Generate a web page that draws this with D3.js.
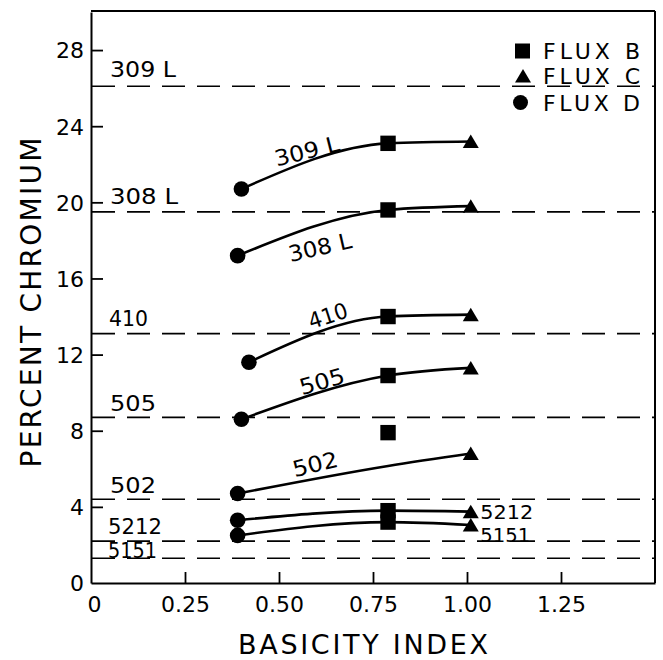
<!DOCTYPE html>
<html><head><meta charset="utf-8">
<script src="https://cdn.jsdelivr.net/npm/d3@7"></script>
<style>
body{margin:0;background:#fff}
svg{display:block}
text{font-family:"DejaVu Sans","Liberation Sans",Arial,sans-serif;fill:#000}
</style>
</head><body>
<svg id="c" width="663" height="660"></svg>
<script>
// ---- data ----
const alloys = ["309 L","308 L","410","505","502","5212","5151"];
const fluxD_basicity = [0.40,0.39,0.42,0.40,0.39,0.39,0.39];
const fluxD_cr = [20.7,17.2,11.6,8.6,4.7,3.3,2.5];
const fluxB_basicity = 0.79;
const fluxB_cr = [23.1,19.6,14.0,10.9,7.9,3.8,3.2];
const fluxC_basicity = 1.01;
const fluxC_cr = [23.2,19.8,14.1,11.3,6.8,3.75,3.05];
// value of the drawn (smoothed) curve at the flux-B basicity
const curveAtB_cr = [23.1,19.6,14.0,10.9,6.15,3.8,3.2];
// nominal chromium level of each alloy (dashed lines)
const alloyLevel_cr = [26.1,19.5,13.1,8.7,4.4,2.2,1.3];
const xTickValues = [0,0.25,0.5,0.75,1.0,1.25];
const xTickLabels = ["0","0.25","0.50","0.75","1.00","1.25"];
const yTickValues = [0,4,8,12,16,20,24,28];
const yTickLabels = ["0","4","8","12","16","20","24","28"];
const legendLabels = ["FLUX B","FLUX C","FLUX D"];
const xTitle = "BASICITY INDEX";
const yTitle = "PERCENT CHROMIUM";

// ---- layout ----
const svg = d3.select("#c");
const x = d3.scaleLinear().domain([0,1.5]).range([91,655]);
const y = d3.scaleLinear().domain([0,30]).range([583,12]);
const ink = "#000";

// frame top/right
svg.append("line").attr("x1",91).attr("x2",655).attr("y1",11).attr("y2",11).attr("stroke",ink).attr("stroke-width",2);
svg.append("line").attr("x1",655).attr("x2",655).attr("y1",11).attr("y2",583).attr("stroke",ink).attr("stroke-width",2);

// axes
const gx = svg.append("g").attr("transform","translate(0,583)")
  .call(d3.axisBottom(x).tickValues(xTickValues).tickFormat((d,i)=>xTickLabels[i]).tickSizeInner(-11).tickSizeOuter(0).tickPadding(13));
const gy = svg.append("g").attr("transform","translate(91,0)")
  .call(d3.axisLeft(y).tickValues(yTickValues).tickFormat((d,i)=>yTickLabels[i]).tickSizeInner(-12).tickSizeOuter(0).tickPadding(7));
[gx,gy].forEach(g=>{
  g.attr("font-family",null).attr("font-size",null);
  g.select(".domain").attr("stroke",ink).attr("stroke-width",2);
  g.selectAll(".tick line").attr("stroke",ink).attr("stroke-width",1.8);
  g.selectAll(".tick text").attr("fill",ink).style("font-size","22px");
});
gx.selectAll(".tick line").filter(d=>d===0).remove();
gy.selectAll(".tick line").filter(d=>d===0).remove();
gx.selectAll(".tick text").filter(d=>d===0).attr("dx","3");
gy.selectAll(".tick text").attr("dy","0.36em");

// dashed alloy levels
svg.append("g").selectAll("line").data(alloyLevel_cr).join("line")
  .attr("x1",92).attr("x2",655).attr("y1",d=>y(d)).attr("y2",d=>y(d))
  .attr("stroke",ink).attr("stroke-width",1.6).attr("stroke-dasharray","23,12");

// left labels of dashed lines
const leftLabelDy = [-9,-8,-8,-6,-6,-7,0];
const leftLabelX = [110,110,109,110,110,108,108];
const leftLabelW = [66,68,39,46,46,54,49];
const leftLabelSize = [22,22,22,22,22,21,21];
svg.append("g").selectAll("text").data(alloys).join("text")
  .attr("x",(d,i)=>leftLabelX[i]).attr("y",(d,i)=>y(alloyLevel_cr[i])+leftLabelDy[i])
  .attr("textLength",(d,i)=>leftLabelW[i]).attr("lengthAdjust","spacingAndGlyphs")
  .style("font-size",(d,i)=>leftLabelSize[i]+"px").text(d=>d);

// curves
const line = d3.line().x(d=>x(d[0])).y(d=>y(d[1])).curve(d3.curveMonotoneX);
const curves = alloys.map((a,i)=>[[fluxD_basicity[i],fluxD_cr[i]],[fluxB_basicity,curveAtB_cr[i]],[fluxC_basicity,fluxC_cr[i]]]);
svg.append("g").selectAll("path").data(curves).join("path")
  .attr("d",line).attr("fill","none").attr("stroke",ink).attr("stroke-width",2.6);

// markers
const triPath = "M0,-7 L8,6.5 L-8,6.5 Z";
svg.append("g").selectAll("circle").data(alloys).join("circle")
  .attr("cx",(d,i)=>x(fluxD_basicity[i])).attr("cy",(d,i)=>y(fluxD_cr[i])).attr("r",7.8).attr("fill",ink);
svg.append("g").selectAll("rect").data(fluxB_cr).join("rect")
  .attr("x",d=>x(fluxB_basicity)-7.7).attr("y",d=>y(d)-7.7).attr("width",15.4).attr("height",15.4).attr("fill",ink);
svg.append("g").selectAll("path").data(fluxC_cr).join("path")
  .attr("transform",d=>`translate(${x(fluxC_basicity)},${y(d)})`).attr("d",triPath).attr("fill",ink);

// labels along curves
const curveLabelPos = [[0.574,22.7,-14,66],[0.609,17.65,-13,64],[0.630,14.05,-18,40],[0.614,10.6,-16,46],[0.596,6.25,-14,46]];
svg.append("g").selectAll("text").data(curveLabelPos).join("text")
  .attr("transform",d=>`translate(${x(d[0])},${y(d[1])}) rotate(${d[2]})`)
  .attr("text-anchor","middle").attr("dy","0.36em")
  .attr("textLength",d=>d[3]).attr("lengthAdjust","spacingAndGlyphs")
  .style("font-size","22px").text((d,i)=>alloys[i]);

// right labels for 5212 / 5151
const rightLabelDy = [7,17];
svg.append("g").selectAll("text").data([5,6]).join("text")
  .attr("x",x(fluxC_basicity)+9.5).attr("y",(d,k)=>y(fluxC_cr[d])+rightLabelDy[k])
  .attr("textLength",(d,k)=>[53,50][k]).attr("lengthAdjust","spacingAndGlyphs")
  .style("font-size","20px").text(d=>alloys[d]);

// legend
const lg = svg.append("g");
const legY = [51,76,102.5];
lg.append("rect").attr("x",515).attr("y",legY[0]-7.5).attr("width",15).attr("height",15).attr("fill",ink);
lg.append("path").attr("transform",`translate(523,${legY[1]})`).attr("d",triPath).attr("fill",ink);
lg.append("circle").attr("cx",520.5).attr("cy",legY[2]).attr("r",7.5).attr("fill",ink);
lg.selectAll("text").data(legendLabels).join("text")
  .attr("x",543).attr("y",(d,i)=>legY[i]+8).attr("textLength",97).attr("lengthAdjust","spacing")
  .style("font-size","22px").text(d=>d);

// axis titles
svg.append("text").attr("x",363).attr("y",654).attr("text-anchor","middle")
  .attr("textLength",250).attr("lengthAdjust","spacing").style("font-size","27px").text(xTitle);
svg.append("text").attr("transform","translate(41,302.5) rotate(-90)").attr("text-anchor","middle")
  .attr("textLength",330).attr("lengthAdjust","spacing").style("font-size","28px").text(yTitle);
</script>
</body></html>
